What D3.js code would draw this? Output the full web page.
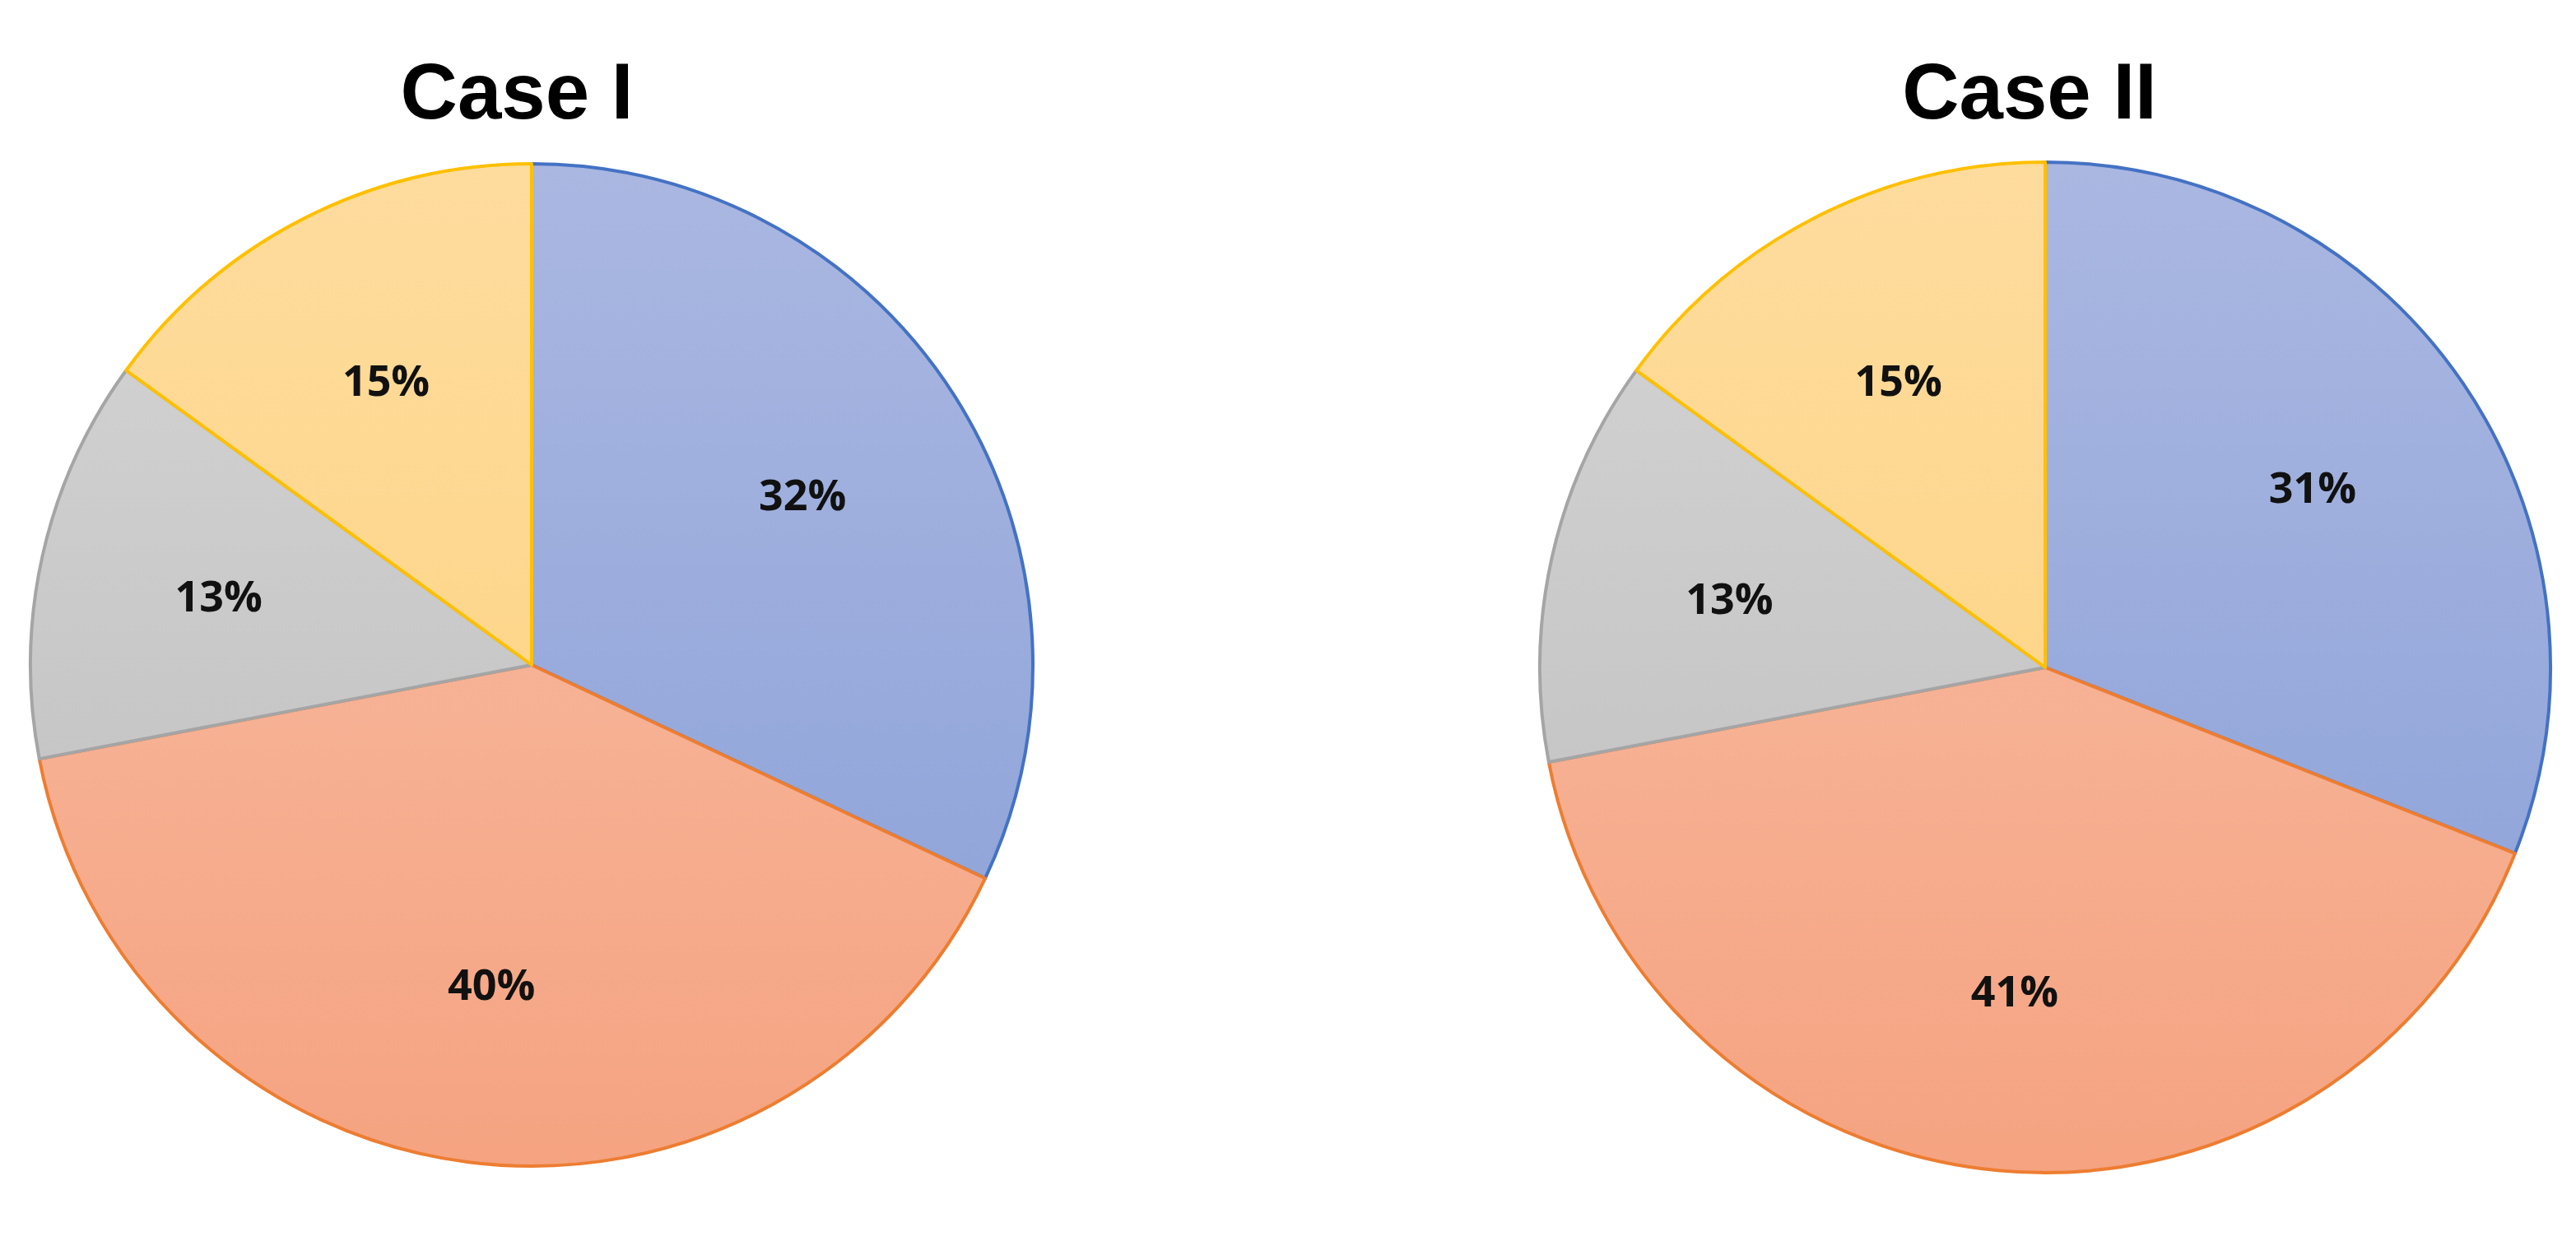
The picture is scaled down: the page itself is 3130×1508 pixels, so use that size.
<!DOCTYPE html>
<html>
<head>
<meta charset="utf-8">
<script src="https://cdn.jsdelivr.net/npm/d3@7"></script>
<style>
  body { margin: 0; background: #fff; }
</style>
</head>
<body>
<svg id="chart" width="3130" height="1508"></svg>
<script>
var titles = ["Case I", "Case II"];
var categories = ["A", "B", "C", "D"];
var caseOneValues = [32, 40, 13, 15];
var caseTwoValues = [31, 41, 13, 15];
var topColors = ["#aab7e1", "#f8c1a9", "#d5d5d5", "#fedc9e"];
var bottomColors = ["#889fd7", "#f5a381", "#bcbcbc", "#fdd179"];
var strokeColors = ["#4472c4", "#ed7d31", "#a5a5a5", "#ffc000"];

var svg = d3.select("#chart");
var defs = svg.append("defs");

var pies = [
    { title: titles[0], values: caseOneValues, cx: 646, cy: 808, r: 609, titleX: 628 },
    { title: titles[1], values: caseTwoValues, cx: 2485, cy: 811, r: 614, titleX: 2466 }
];

var pie = d3.pie().sort(null).value(function(d) { return d; });

pies.forEach(function(p, pi) {
    categories.forEach(function(c, i) {
        var g = defs.append("linearGradient")
            .attr("id", "grad" + pi + "_" + i)
            .attr("gradientUnits", "userSpaceOnUse")
            .attr("x1", 0).attr("x2", 0)
            .attr("y1", p.cy - p.r).attr("y2", p.cy + p.r);
        g.append("stop").attr("offset", "0%").attr("stop-color", topColors[i]);
        g.append("stop").attr("offset", "100%").attr("stop-color", bottomColors[i]);
    });

    var arc = d3.arc().innerRadius(0).outerRadius(p.r);
    var labelArc = d3.arc().innerRadius(p.r * 0.64).outerRadius(p.r * 0.64);

    svg.append("text")
        .attr("x", p.titleX)
        .attr("y", 144)
        .attr("text-anchor", "middle")
        .attr("font-family", "Liberation Sans, Arial, sans-serif")
        .attr("font-weight", "bold")
        .attr("font-size", 96)
        .text(p.title);

    var g = svg.append("g").attr("transform", "translate(" + p.cx + "," + p.cy + ")");
    var arcs = pie(p.values);

    g.selectAll("path")
        .data(arcs)
        .enter().append("path")
        .attr("d", arc)
        .attr("transform", "translate(" + 0 + "," + 0 + ")")
        .attr("fill", function(d, i) { return "url(#grad" + pi + "_" + i + ")"; })
        .attr("stroke", function(d, i) { return strokeColors[i]; })
        .attr("stroke-width", 4)
        .attr("stroke-linejoin", "round");

    // gradients are in page coordinates, so shift them into the group's frame
    defs.selectAll("linearGradient").filter(function() { return this.id.indexOf("grad" + pi + "_") === 0; })
        .attr("y1", -p.r).attr("y2", p.r);

    g.selectAll("text")
        .data(arcs)
        .enter().append("text")
        .attr("transform", function(d) { return "translate(" + labelArc.centroid(d) + ")"; })
        .attr("text-anchor", "middle")
        .attr("dominant-baseline", "central")
        .attr("font-family", "Open Sans, DejaVu Sans, sans-serif")
        .attr("font-weight", "bold")
        .attr("font-size", 52)
        .attr("fill", "#111")
        .text(function(d) { return d.data + "%"; });
});
</script>
</body>
</html>
